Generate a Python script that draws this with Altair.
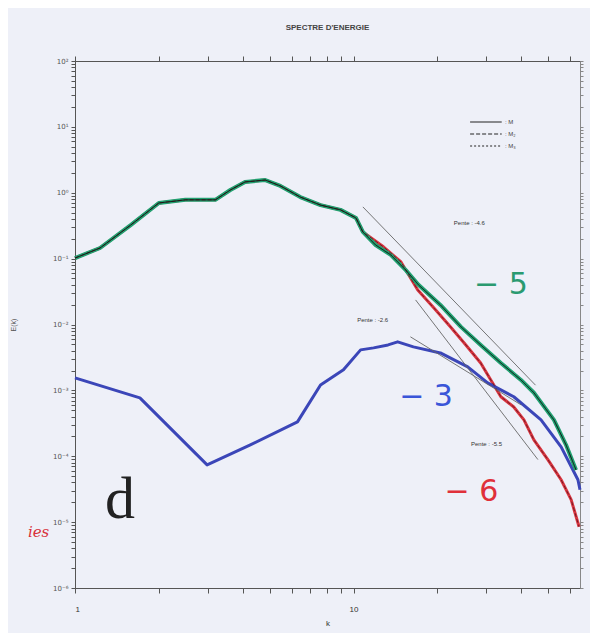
import altair as alt
import pandas as pd

# ---- data ----
k_m = [1.0, 1.23, 1.58, 2.0, 2.49, 3.19, 3.61, 4.08, 4.82, 5.46, 6.44, 7.61, 8.98, 10.2, 10.8,
       12.0, 13.6, 15.4, 17.1, 20.5, 24.3, 28.6, 33.8, 39.9, 44.4, 52.4, 57.9, 62.9]
e_m = [0.102, 0.145, 0.32, 0.70, 0.78, 0.78, 1.10, 1.46, 1.56, 1.27, 0.86, 0.65, 0.55, 0.415, 0.254,
       0.161, 0.114, 0.067, 0.040, 0.0198, 0.0092, 0.0049, 0.0026, 0.00144, 0.00092, 0.000356, 0.000149, 0.000062]

k_m2 = [1.0, 1.23, 1.58, 2.0, 2.49, 3.19, 3.61, 4.08, 4.82, 5.46, 6.44, 7.61, 8.98, 10.2, 10.8,
        12.8, 14.8, 17.0, 19.4, 22.3, 25.3, 28.6, 31.1, 33.8, 37.6, 40.9, 44.4, 49.9, 55.6, 60.4, 64.5]
e_m2 = [0.102, 0.145, 0.32, 0.70, 0.78, 0.78, 1.10, 1.46, 1.56, 1.27, 0.86, 0.65, 0.55, 0.415, 0.254,
        0.151, 0.089, 0.0335, 0.0179, 0.0092, 0.0049, 0.0026, 0.00144, 0.0008, 0.00056, 0.000356,
        0.000177, 0.000088, 0.000044, 0.000022, 0.0000085]

k_m3 = [1.0, 1.71, 2.98, 4.26, 6.29, 7.61, 9.2, 10.6, 11.8, 13.3, 14.4, 16.4, 20.5, 25.7, 30.3,
        37.6, 47.1, 55.6, 63.9, 65.0]
e_m3 = [0.00155, 0.00077, 0.000074, 0.000149, 0.000333, 0.00121, 0.00205, 0.00412, 0.00442, 0.0049,
        0.00545, 0.00457, 0.0037, 0.00228, 0.0013, 0.0008, 0.000356, 0.000139, 0.000044, 0.000031]

series_names = ["M", "M2", "M3"]
highlight_colors = {"M": "#20a070", "M2": "#d9343f", "M3": "#3b46b8"}
core_colors = {"M": "#111111", "M2": "#6a1a22"}

# slope reference lines (two end points each)
ref_names = ["p1", "p1", "p2", "p2", "p3", "p3"]
ref_k = [10.8, 45.0, 16.0, 40.0, 16.7, 45.9]
ref_e = [0.61, 0.0012, 0.0065, 0.0006, 0.0236, 0.000089]

pente_text = ["Pente : -4.6", "Pente : -2.6", "Pente : -5.5"]
pente_k = [22.9, 10.3, 26.4]
pente_e = [0.35, 0.0117, 0.000155]

hand_text = ["\u2212 5", "\u2212 3", "\u2212 6"]
hand_k = [33.8, 18.2, 26.5]
hand_e = [0.04, 0.00078, 0.000029]
hand_colors = ["#2a9a70", "#3a55d8", "#e0303a"]

y_ticks = [m * d for d in [1e-6, 1e-5, 1e-4, 1e-3, 1e-2, 1e-1, 1, 10] for m in range(1, 10)] + [100]
x_ticks = [1, 2, 3, 4, 5, 6, 7, 8, 9, 10, 20, 30, 40, 50, 60]

# ---- tables ----
curves = pd.concat([
    pd.DataFrame({"k": k_m, "E": e_m, "series": "M"}),
    pd.DataFrame({"k": k_m2, "E": e_m2, "series": "M2"}),
    pd.DataFrame({"k": k_m3, "E": e_m3, "series": "M3"}),
])
refs = pd.DataFrame({"line": ref_names, "k": ref_k, "E": ref_e})
pentes = pd.DataFrame({"t": pente_text, "k": pente_k, "E": pente_e})
hands = pd.DataFrame({"t": hand_text, "k": hand_k, "E": hand_e, "c": hand_colors})
dletter = pd.DataFrame({"t": ["d"], "k": [1.45], "E": [0.000022]})
ies = pd.DataFrame({"t": ["ies"], "k": [0.74], "E": [0.0000072]})

xscale = alt.Scale(type="log", domain=[1, 65], nice=False)
yscale = alt.Scale(type="log", domain=[1e-6, 100], nice=False)

lg = "round(log(datum.value)/LN10)"
sup = (f"({lg}==2?'\u00b2':{lg}==1?'\u00b9':{lg}==0?'\u2070':{lg}==-1?'\u207b\u00b9':"
       f"{lg}==-2?'\u207b\u00b2':{lg}==-3?'\u207b\u00b3':{lg}==-4?'\u207b\u2074':"
       f"{lg}==-5?'\u207b\u2075':'\u207b\u2076')")
ylabel = f"abs(log(datum.value)/LN10 - {lg}) < 0.001 ? '10' + {sup} : ''"

X = alt.X("k:Q", scale=xscale, title="k",
          axis=alt.Axis(orient="bottom", values=x_ticks,
                        labelExpr="datum.value==1?'1':datum.value==10?'10':''",
                        grid=False, tickSize=5, labelPadding=12, titlePadding=6,
                        labelFontSize=8, titleFontSize=8, labelColor="#333", titleColor="#333",
                        domainColor="#555", tickColor="#555", titleFontWeight="normal",
                        labelFont="Liberation Sans", titleFont="Liberation Sans"))
Y = alt.Y("E:Q", scale=yscale, title="E(k)",
          axis=alt.Axis(orient="left", values=y_ticks, labelExpr=ylabel, grid=False, tickSize=4,
                        labelFontSize=7, titleFontSize=7, labelColor="#555", titleColor="#555",
                        domainColor="#555", tickColor="#555", labelPadding=3, titlePadding=36,
                        titleFontWeight="normal", labelFont="DejaVu Sans", titleFont="Liberation Sans"))

dash_scale = alt.Scale(domain=series_names, range=[[1, 0], [4, 2], [2, 2]])
dash_legend = alt.Legend(title=None, orient="none", legendX=394, legendY=52,
                         symbolType="M-1,0H3", symbolStrokeColor="#222", symbolFillColor="transparent",
                         symbolStrokeWidth=1.2, symbolSize=250, labelFontSize=6,
                         labelColor="#444", rowPadding=0, labelOffset=18,
                         labelExpr="datum.label=='M'?': M':datum.label=='M2'?': M\u2082':': M\u2083'")


def hl(name, width):
    return alt.Chart(curves).transform_filter(f"datum.series == '{name}'").mark_line(
        strokeWidth=width, strokeJoin="round", color=highlight_colors[name]).encode(
        x=X, y=Y, order=alt.Order("k:Q"))


def core(name, width):
    return alt.Chart(curves).transform_filter(f"datum.series == '{name}'").mark_line(
        strokeWidth=width, color=core_colors[name]).encode(
        x=X, y=Y, order=alt.Order("k:Q"),
        strokeDash=alt.StrokeDash("series:N", scale=dash_scale, legend=dash_legend))


reflines = alt.Chart(refs).mark_line(color="#666", strokeWidth=0.9).encode(
    x=X, y=Y, detail="line:N")

pente_lbl = alt.Chart(pentes).mark_text(fontSize=6, color="#333", align="left", font="Liberation Sans").encode(
    x=X, y=Y, text="t:N")

hand_lbl = alt.Chart(hands).mark_text(fontSize=30, align="center", baseline="middle",
                                      font="DejaVu Sans").encode(
    x=X, y=Y, text="t:N", color=alt.Color("c:N", scale=None))

d_lbl = alt.Chart(dletter).mark_text(fontSize=60, color="#222", font="Liberation Serif",
                                     align="center", baseline="middle").encode(x=X, y=Y, text="t:N")

ies_lbl = alt.Chart(ies).mark_text(fontSize=15, color="#d8303a", font="DejaVu Serif", fontStyle="italic",
                                   align="center", baseline="middle").encode(x=X, y=Y, text="t:N")

main = alt.layer(hl("M2", 3.0), hl("M3", 3.0), hl("M", 4.0), core("M2", 0.9), core("M", 1.0),
                 reflines, pente_lbl, hand_lbl, d_lbl, ies_lbl)

mirror = alt.Chart(pd.DataFrame({"k": [1], "E": [1]})).mark_point(opacity=0).encode(
    x=alt.X("k:Q", scale=xscale, axis=alt.Axis(orient="top", values=x_ticks, labels=False, title=None,
                                               tickSize=5, domainColor="#555", tickColor="#555")),
    y=alt.Y("E:Q", scale=yscale, axis=alt.Axis(orient="right", values=y_ticks, labels=False, title=None,
                                               tickSize=3, domainColor="#888", tickColor="#888")),
)

chart = alt.layer(main, mirror).resolve_axis(x="independent", y="independent").properties(
    width=505, height=527,
    padding={"left": 67, "top": 53, "right": 10, "bottom": 45},
    autosize="none",
    background="#eef0f8",
    title=alt.TitleParams("SPECTRE D'ENERGIE", fontSize=8, color="#444", fontWeight="bold", offset=24,
                          anchor="middle", font="Liberation Sans"),
).configure_view(stroke="#666", strokeWidth=1)

chart.save("out.html", embed_options={"renderer": "svg", "actions": False})
